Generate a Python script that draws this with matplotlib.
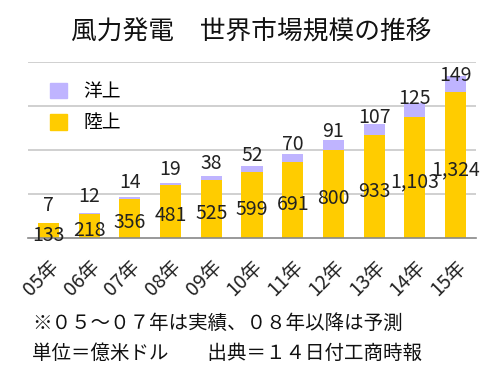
import matplotlib
matplotlib.use("Agg")
import matplotlib.pyplot as plt
from matplotlib.patches import Patch

plt.rcParams["font.family"] = ["Noto Sans CJK JP", "DejaVu Sans"]

years = ["05年", "06年", "07年", "08年", "09年", "10年", "11年", "12年", "13年", "14年", "15年"]
land = [133, 218, 356, 481, 525, 599, 691, 800, 933, 1103, 1324]
offshore = [7, 12, 14, 19, 38, 52, 70, 91, 107, 125, 149]

yellow = "#FFCC00"
purple = "#BFB4FF"

fig = plt.figure(figsize=(5.02, 3.77), dpi=100)
ax = fig.add_axes([28 / 502, 1 - 238 / 377, 448 / 502, 176 / 377])

x = list(range(len(years)))
ax.bar(x, land, width=0.52, color=yellow, zorder=2)
ax.bar(x, offshore, width=0.52, bottom=land, color=purple, zorder=2)

for i in x:
    total = land[i] + offshore[i]
    ax.text(i, land[i] / 2 - 40, f"{land[i]:,}", ha="center", va="center",
            fontsize=14, color="#222222", zorder=3)
    ax.text(i, 0.887 * total + 175, f"{offshore[i]:,}", ha="center", va="center",
            fontsize=14, color="#222222", zorder=3)

ax.set_xlim(-0.5, len(years) - 0.5)
ax.set_ylim(0, 1600)
ax.set_yticks([400, 800, 1200, 1600])
ax.set_yticklabels([])
ax.tick_params(axis="y", length=0)
ax.yaxis.grid(True, color="#C8C8C8", linewidth=1.2, zorder=0)
ax.set_axisbelow(True)
for s in ["top", "right", "left"]:
    ax.spines[s].set_visible(False)
ax.spines["bottom"].set_color("#888888")
ax.spines["bottom"].set_linewidth(1.2)

ax.set_xticks(x)
ax.set_xticklabels(years, rotation=45, ha="right", rotation_mode="anchor",
                   fontsize=14, color="#222222")
ax.tick_params(axis="x", length=0, pad=13)

handles = [Patch(color=purple, label="洋上"), Patch(color=yellow, label="陸上")]
fig.legend(handles=handles, loc="upper left", bbox_to_anchor=(50 / 502, 1 - 81 / 377),
           frameon=False, fontsize=13.5, handlelength=0.9, handleheight=0.9,
           handletextpad=0.9, labelspacing=0.55, borderpad=0, borderaxespad=0)

fig.text(0.5, 1 - 33 / 377, "風力発電　世界市場規模の推移", ha="center", va="center",
         fontsize=18.5, color="#111111")
fig.text(32 / 502, 1 - 323 / 377, "※０５～０７年は実績、０８年以降は予測", ha="left",
         va="center", fontsize=14, color="#111111")
fig.text(32 / 502, 1 - 353 / 377, "単位＝億米ドル　　出典＝１４日付工商時報", ha="left",
         va="center", fontsize=14, color="#111111")

fig.savefig("out.png", dpi=100)
